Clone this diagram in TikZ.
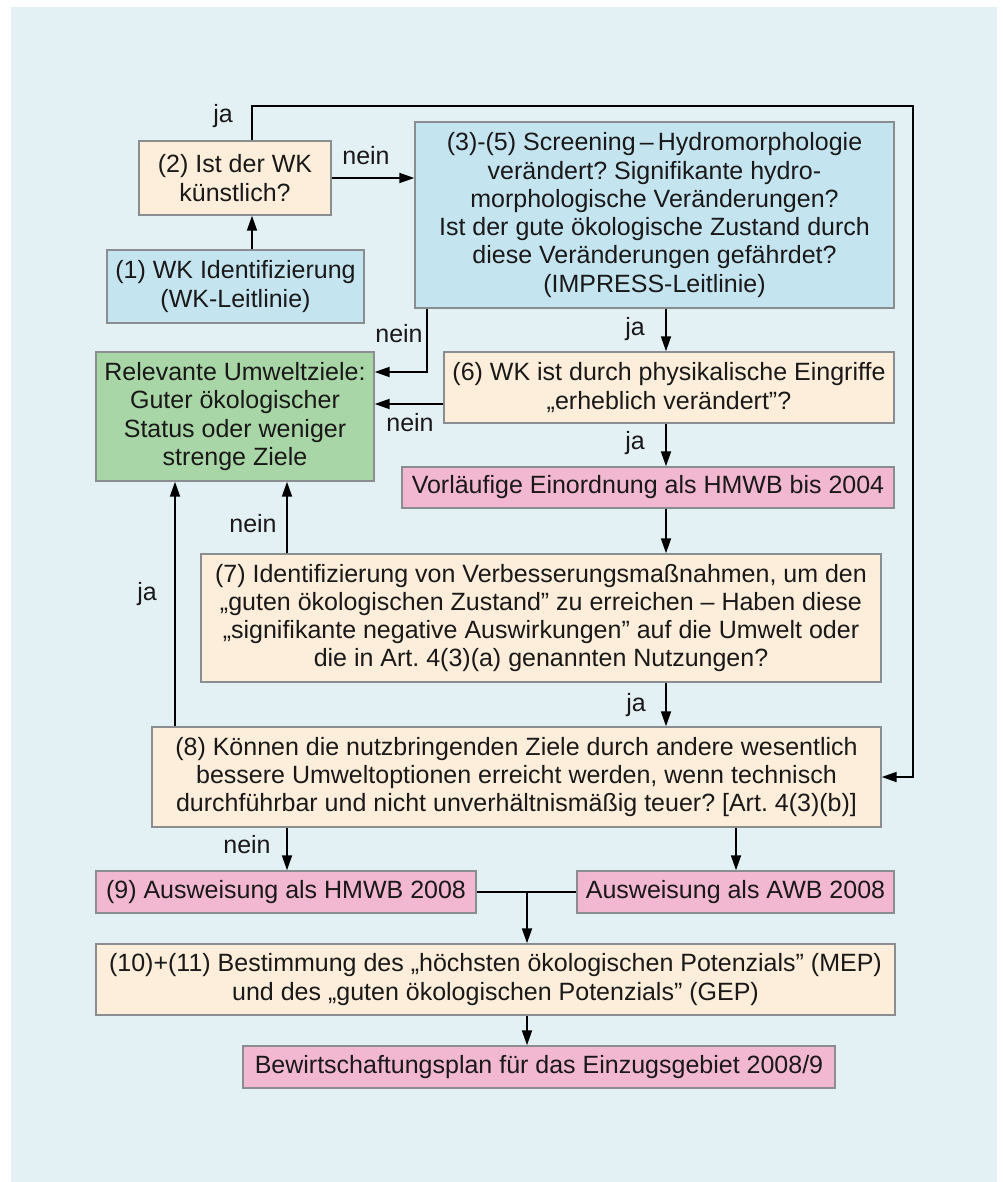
\documentclass[tikz,border=0pt]{standalone}
\usepackage{fontspec}
\setmainfont{Liberation Sans}
\usetikzlibrary{arrows.meta}
\frenchspacing
\definecolor{bgblue}{HTML}{E4F1F4}
\definecolor{beige}{HTML}{FCEEDA}
\definecolor{skyblue}{HTML}{C4E5EF}
\definecolor{leaf}{HTML}{A8D6A6}
\definecolor{rose}{HTML}{F2B8D1}
\definecolor{boxline}{HTML}{8A8E91}
\definecolor{txt}{HTML}{1A1819}
\begin{document}
\begin{tikzpicture}[x=1pt,y=-1pt,
  box/.style={draw=boxline, line width=1.4pt, inner sep=0pt, align=center,
    font=\fontsize{25}{28.3}\selectfont, text=txt},
  flow/.style={line width=1.8pt, draw=black, -{Triangle[length=15pt,width=10pt]}},
  wire/.style={line width=1.8pt, draw=black},
  lbl/.style={font=\fontsize{25}{28}\selectfont, text=txt, inner sep=0pt, anchor=base}]

% page and panel
\useasboundingbox (0,0) rectangle (1002,1182);
\fill[white] (0,0) rectangle (1002,1182);
\fill[bgblue] (11,7) rectangle (997,1182);

% boxes
\node[box, fill=beige, minimum width=192pt, minimum height=74pt] (b2) at (235,178)
  {(2) Ist der WK\\künstlich?};
\node[box, fill=skyblue, minimum width=257pt, minimum height=73pt] (b1) at (235.5,286.5)
  {(1) WK Identifizierung\\(WK-Leitlinie)};
\node[box, fill=skyblue, minimum width=479pt, minimum height=186pt] (b35) at (654.5,215)
  {(3)-(5) Screening\,–\,Hydromorphologie\\verändert? Signifikante hydro-\\morphologische Veränderungen?\\Ist der gute ökologische Zustand durch\\diese Veränderungen gefährdet?\\(IMPRESS-Leitlinie)};
\node[box, fill=leaf, minimum width=278pt, minimum height=129pt] (goal) at (235,416.5)
  {Relevante Umweltziele:\\Guter ökologischer\\Status oder weniger\\strenge Ziele};
\node[box, fill=beige, minimum width=450pt, minimum height=71pt] (b6) at (669,387.5)
  {(6) WK ist durch physikalische Eingriffe\\„erheblich verändert”?};
\node[box, fill=rose, minimum width=492pt, minimum height=41pt] (pre) at (648,487.5)
  {Vorläufige Einordnung als HMWB bis 2004};
\node[box, fill=beige, minimum width=680pt, minimum height=128pt] (b7) at (541,618)
  {(7) Identifizierung von Verbesserungsmaßnahmen, um den\\„guten ökologischen Zustand” zu erreichen – Haben diese\\„signifikante negative Auswirkungen” auf die Umwelt oder\\die in Art. 4(3)(a) genannten Nutzungen?};
\node[box, fill=beige, minimum width=729pt, minimum height=100pt] (b8) at (516.5,777)
  {(8) Können die nutzbringenden Ziele durch andere wesentlich\\bessere Umweltoptionen erreicht werden, wenn technisch\\durchführbar und nicht unverhältnismäßig teuer? [Art. 4(3)(b)]};
\node[box, fill=rose, minimum width=380pt, minimum height=42pt] (b9) at (286,892)
  {(9) Ausweisung als HMWB 2008};
\node[box, fill=rose, minimum width=317pt, minimum height=42pt] (awb) at (735.5,892)
  {Ausweisung als AWB 2008};
\node[box, fill=beige, minimum width=799pt, minimum height=71pt] (b10) at (495.5,979.5)
  {(10)+(11) Bestimmung des „höchsten ökologischen Potenzials” (MEP)\\und des „guten ökologischen Potenzials” (GEP)};
\node[box, fill=rose, minimum width=592pt, minimum height=42pt] (plan) at (539,1067)
  {Bewirtschaftungsplan für das Einzugsgebiet 2008/9};

% routing points
\coordinate (xa) at (252,106);
\coordinate (tr) at (913,106);
\coordinate (br) at (913,777);
\coordinate (k1) at (427,372);
\coordinate (k2) at (444,404);
\coordinate (xm) at (666,0);
\coordinate (xn) at (287,0);
\coordinate (xj) at (175,0);
\coordinate (xw) at (736,0);
\coordinate (xq) at (527,0);

% connectors
\draw[flow] (b1.north -| xa) -- (b2.south -| xa);
\draw[flow] (b2.north -| xa) -- (xa) -- (tr) -- (br) -- (b8.east);
\draw[flow] (b2.east) -- (b2.east -| b35.west);
\draw[flow] (b35.south -| k1) -- (k1) -- (k1 -| goal.east);
\draw[flow] (b35.south -| xm) -- (b6.north -| xm);
\draw[flow] (b6.west |- k2) -- (goal.east |- k2);
\draw[flow] (b6.south -| xm) -- (pre.north -| xm);
\draw[flow] (pre.south -| xm) -- (b7.north -| xm);
\draw[flow] (b7.north -| xn) -- (goal.south -| xn);
\draw[flow] (b7.south -| xm) -- (b8.north -| xm);
\draw[flow] (b8.north -| xj) -- (goal.south -| xj);
\draw[flow] (b8.south -| xn) -- (b9.north -| xn);
\draw[flow] (b8.south -| xw) -- (awb.north -| xw);
\draw[wire] (b9.east) -- (awb.west);
\draw[flow] (b9.east -| xq) -- (b10.north -| xq);
\draw[flow] (b10.south -| xq) -- (plan.north -| xq);

% branch labels
\node[lbl] (l1) at (223,123) {ja};
\node[lbl] (l2) at (366,165) {nein};
\node[lbl] (l3) at (399,342) {nein};
\node[lbl] (l4) at (635,335) {ja};
\node[lbl] (l5) at (410,431) {nein};
\node[lbl] (l6) at (635,449) {ja};
\node[lbl] (l7) at (253,532) {nein};
\node[lbl] (l8) at (636,711) {ja};
\node[lbl] (l9) at (147,600) {ja};
\node[lbl] (l10) at (247,853) {nein};
\end{tikzpicture}
\end{document}
